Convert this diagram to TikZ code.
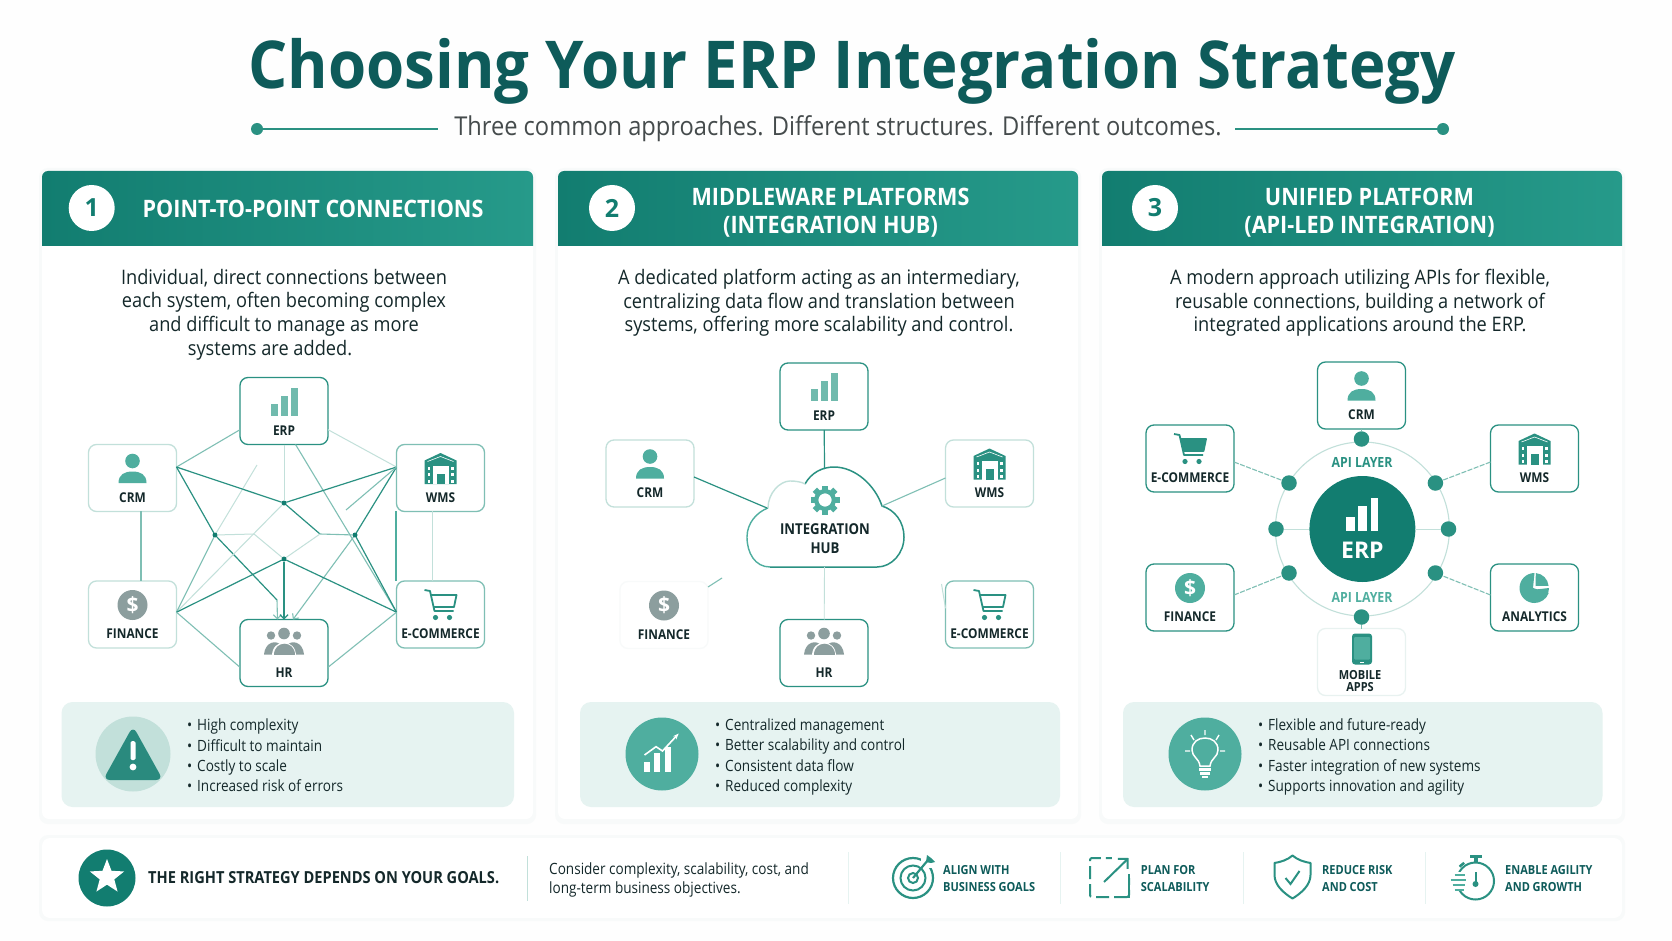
\documentclass[tikz,border=0pt]{standalone}
\usepackage{fontspec}
\setmainfont{Open Sans}
\newfontfamily\bodyf[FakeStretch=0.91]{Open Sans}
\newfontfamily\smallf[FakeStretch=0.875]{Open Sans}
\newfontfamily\headf[FakeStretch=0.88]{Open Sans}
\newfontfamily\headg[FakeStretch=0.9]{Open Sans}
\newfontfamily\titlef[FakeStretch=0.935]{Open Sans}
\usetikzlibrary{calc,arrows.meta,shapes.geometric}
\definecolor{tealD}{HTML}{127D70}
\definecolor{tealR}{HTML}{269A8A}
\definecolor{tealM}{HTML}{2A9182}
\definecolor{tealS}{HTML}{4FAE9F}
\definecolor{tealL}{HTML}{7FBFB4}
\definecolor{tealB}{HTML}{70BAAD}
\definecolor{tealF}{HTML}{C2E0DA}
\definecolor{titleC}{HTML}{0E5B5A}
\definecolor{subC}{HTML}{454B4C}
\definecolor{inkC}{HTML}{14282A}
\definecolor{greyI}{HTML}{8C9E9E}
\definecolor{infoC}{HTML}{E6F3F1}
\definecolor{shadC}{HTML}{F8FAFA}
\definecolor{bgC}{HTML}{FEFEFE}
\newcommand{\fsz}[2]{\fontsize{#1}{#2}\selectfont}
\newcount\icn
\newcommand{\nextic}{\global\advance\icn by 1 }
\tikzset{
 sysbox/.style={rectangle,rounded corners=8pt,minimum width=88pt,minimum height=67pt,fill=white,outer sep=0pt,inner sep=0pt,line width=1.3pt},
 syslabel/.style={font=\headf\bfseries\fsz{13.5}{16},text=inkC,inner sep=0pt,align=center},
 lnS/.style={draw=tealM,line width=1.2pt},
 lnM/.style={draw=tealL,line width=1.1pt},
 lnL/.style={draw=tealF,line width=1pt},
 jdot/.style={circle,fill=tealD,minimum size=5pt,inner sep=0pt,outer sep=0pt},
 apidot/.style={circle,fill=tealM,minimum size=15.5pt,inner sep=0pt,outer sep=0pt},
 dashln/.style={draw=tealL,line width=1.1pt,dash pattern=on 5pt off 1.5pt},
 cardbody/.style={fill=white,rounded corners=7pt},
 infobox/.style={fill=infoC,rounded corners=11pt},
 desc/.style={font=\bodyf\fsz{20}{23.6},text=inkC,align=center,inner sep=0pt},
 bullets/.style={font=\smallf\fsz{15.5}{20.4},text=inkC,align=left,inner sep=0pt,anchor=west},
 headT/.style={font=\headg\bfseries\fsz{24}{28},text=white,align=center,inner sep=0pt},
 numc/.style={circle,fill=white,minimum size=46pt,inner sep=0pt,font=\bfseries\fsz{25}{25},text=tealD},
 footT/.style={font=\headf\bfseries\fsz{12.5}{17},text=titleC,align=left,inner sep=0pt,anchor=west},
 divl/.style={draw=#1,line width=1pt},
}
% icons: origin at icon centre, y grows downward
\newcommand{\icBars}[1]{\fill[#1] (-13,14) rectangle (-6.5,2); \fill[#1] (-3,14) rectangle (3.5,-6); \fill[#1] (7,14) rectangle (13.5,-14);}
\newcommand{\icPerson}[1]{\fill[#1] (0,-7.5) circle (7.3pt); \fill[#1] (-14,14.5) .. controls (-14,6) and (-8,3) .. (0,3) .. controls (8,3) and (14,6) .. (14,14.5) -- cycle;}
\newcommand{\icHouse}[1]{\fill[#1] (-16,-8) -- (0,-15.5) -- (16,-8) -- (16,15.5) -- (-16,15.5) -- cycle;
 \fill[white] (-8,-3) -- (8,-3) -- (8,15.5) -- (-8,15.5) -- cycle;
 \fill[#1] (-4,5) rectangle (4,15.5);
 \foreach \yy in {-2,4.5,11}{\fill[white] (-13,\yy) rectangle (-10.5,\yy+3); \fill[white] (10.5,\yy) rectangle (13,\yy+3);}
 \draw[white,line width=.6pt] (-13,-7) -- (0,-12) -- (13,-7);}
\newcommand{\icDollar}[1]{\nextic\fill[#1] (0,0) circle (15pt); \node[font=\bfseries\fsz{21}{21},text=white,inner sep=0pt] (ic\the\icn) at (0,0) {\$};}
\newcommand{\icCart}[1]{\draw[#1,line width=1.8pt,line join=round] (-16,-15) -- (-10.5,-14) -- (-6,6) -- (13,6);
 \draw[#1,line width=1.8pt,line join=round] (-9.7,-10) -- (16,-10) -- (13.5,2) -- (-6.8,2);
 \fill[#1] (-5,12.5) circle (2.6pt); \fill[#1] (9,12.5) circle (2.6pt);}
\newcommand{\icCartF}[1]{\icCart{#1}\fill[#1] (-9.7,-10) -- (16,-10) -- (13.5,2) -- (-6.8,2) -- cycle;}
\newcommand{\icPeople}[1]{\fill[#1] (-13,-8) circle (4.2pt); \fill[#1] (13,-8) circle (4.2pt);
 \fill[#1] (-20,11) .. controls (-19,-2) and (-7,-4) .. (-3,2) -- (-5,11) -- cycle;
 \fill[#1] (20,11) .. controls (19,-2) and (7,-4) .. (3,2) -- (5,11) -- cycle;
 \fill[white] (0,-10) circle (7pt); \fill[#1] (0,-10) circle (5.8pt);
 \fill[white] (-12,12) .. controls (-12,-6) and (12,-6) .. (12,12) -- cycle;
 \fill[#1] (-10.5,11) .. controls (-10.5,-4) and (10.5,-4) .. (10.5,11) -- cycle;}
\newcommand{\icGear}[1]{\foreach \aa in {0,45,...,315}{\fill[#1,rotate=\aa] (-3,-14.5) rectangle (3,-8);} \draw[#1,line width=4.2pt] (0,0) circle (8.8pt);}
\newcommand{\icPhone}[1]{\fill[#1,rounded corners=3pt] (-10,-15.5) rectangle (10,15.5); \fill[tealS,rounded corners=1pt] (-8,-12) rectangle (8,10.5);\fill[white] (-2,13) rectangle (2,14);}
\newcommand{\icPie}[1]{\begin{scope}[y=1pt]\fill[#1] (-1.5,0) -- (90:15pt) arc (90:340:15pt) -- cycle; \fill[#1] (1,2) -- (85:15pt) arc (85:5:14pt) -- cycle; \fill[#1] (1.5,-1.5) -- (0:14.5pt) arc (0:-35:14.5pt) -- cycle;\end{scope}}
\newcommand{\sysnode}[6]{\node[sysbox,draw=#6] (#1) at (#2,#3) {};
 \node[syslabel] (#1l) at ($(#1)+(0,19.5)$) {#4};
 \begin{scope}[shift={($(#1)+(0,-9.5)$)}]#5\end{scope}}
\newcommand{\cardbox}[4]{%
 \fill[shadC,rounded corners=9pt] (#1-3,168) rectangle (#2+3,824);
 \fill[cardbody] (#1,171) rectangle (#2,819);
 \shade[left color=tealD,right color=tealR] (#1,246) {[rounded corners=6pt] -- (#1,171) -- (#2,171)} -- (#2,246) -- cycle;
 \fill[infobox] (#3,702) rectangle (#4,807);}
\begin{document}
\begin{tikzpicture}[x=1pt,y=-1pt]
\useasboundingbox (0,0) rectangle (1672,941);
\fill[bgC] (0,0) rectangle (1672,941);
% title
\node[font=\titlef\bfseries\fsz{66}{70},text=titleC,inner sep=0pt] (title) at (852,71) {Choosing Your ERP Integration Strategy};
\node[font=\bodyf\fsz{26}{30},text=subC,inner sep=0pt] (sub) at (838,129) {Three common approaches. Different structures. Different outcomes.};
\node[circle,fill=tealM,minimum size=12pt,inner sep=0pt] (dl) at (257,129) {};
\coordinate (dle) at (438,129);
\node[circle,fill=tealM,minimum size=12pt,inner sep=0pt] (dr) at (1443,129) {};
\coordinate (dre) at (1235,129);
\draw[tealM,line width=1.5pt] (dl) -- (dle);
\draw[tealM,line width=1.5pt] (dr) -- (dre);
% cards
\cardbox{42}{533}{61.5}{514}
\cardbox{558}{1078}{580}{1060}
\cardbox{1102}{1622}{1123}{1602.5}
% headers
\node[numc] (n1) at (91.7,208) {1};
\node[headT] (h1) at (313,209) {POINT-TO-POINT CONNECTIONS};
\node[numc] (n2) at (612,208) {2};
\node[headT] (h2) at (830.5,213) {MIDDLEWARE PLATFORMS\\(INTEGRATION HUB)};
\node[numc] (n3) at (1155,208) {3};
\node[headT] (h3) at (1369.5,213) {UNIFIED PLATFORM\\(API-LED INTEGRATION)};
% descriptions
\node[desc] (d1) at (284,314.5) {Individual, direct connections between\\each system, often becoming complex\\and difficult to manage as more\\systems are added.\hspace*{28pt}};
\node[desc] (d2) at (819,303) {A dedicated platform acting as an intermediary,\\centralizing data flow and translation between\\systems, offering more scalability and control.};
\node[desc] (d3) at (1360,303) {A modern approach utilizing APIs for flexible,\\reusable connections, building a network of\\integrated applications around the ERP.};
% PANEL 1
\sysnode{aerp}{284}{411}{ERP}{\icBars{tealB}}{tealM}
\sysnode{acrm}{132.5}{478}{CRM}{\icPerson{tealS}}{tealF}
\sysnode{awms}{440.5}{478}{WMS}{\icHouse{tealM}}{tealL}
\sysnode{afin}{132.5}{614.5}{FINANCE}{\icDollar{greyI}}{tealF}
\sysnode{aeco}{440.5}{614.5}{E-COMMERCE}{\icCart{tealM}}{tealL}
\sysnode{ahr}{284}{653}{HR}{\icPeople{greyI}}{tealM}
\node[jdot] (j1) at (284,503) {};
\node[jdot] (j2) at (215,535) {};
\node[jdot] (j3) at (355,535) {};
\node[jdot] (j4) at (284,559) {};
\coordinate (c1) at (254,534);
\coordinate (c2) at (320,534);
\coordinate (c3) at (346,510);
\coordinate (c4) at (257,465);
\coordinate (c5) at (277,600);
\coordinate (c6) at (141,511);
\coordinate (c7) at (141,581);
\coordinate (c8) at (432,511);
\coordinate (c9) at (432,581);
\coordinate (c10) at (396,511);
\coordinate (c11) at (396,581);
% lines
\draw[lnM] (aerp.203) -- (acrm.14);
\draw[lnL] (aerp.337) -- (awms.166);
\draw[lnL] (aerp.south) -- (j1);
\draw[lnM] (aerp.289) -- (aeco.177);
\draw[lnL] (c4) -- (j2);
\draw[lnS] (acrm.14) -- (j1);
\draw[lnS] (j1) -- (c2);
\draw[lnM] (c2) -- (j3);
\draw[lnS] (acrm.14) -- (j2);
\draw[lnS] (j2) -- (c5);
\draw[lnM,-{Straight Barb[length=4pt]}] (c5) -- (ahr.101);
\draw[lnS] (awms.166) -- (j1);
\draw[lnL] (j1) -- (afin.3);
\draw[lnS] (awms.166) -- (j3);
\draw[lnS] (j3) -- (aeco.177);
\draw[lnM,-{Straight Barb[length=4pt]}] (j3) -- (ahr.75);
\draw[lnM] (awms.166) -- (c3);
\draw[lnM] (j2) -- (afin.3);
\draw[lnL] (j2) -- (c1);
\draw[lnL] (c1) -- (j4);
\draw[lnL] (c2) -- (j4);
\draw[lnS] (j4) -- (afin.3);
\draw[lnS] (j4) -- (aeco.177);
\draw[lnS,-{Straight Barb[length=4pt]}] (j4) -- (ahr.north);
\draw[lnM] (afin.3) -- (ahr.198);
\draw[lnM] (aeco.177) -- (ahr.342);
\draw[lnM] (c6) -- (c7);
\draw[lnL] (c8) -- (c9);
\draw[tealS,line width=1.2pt] (c10) -- (c11);
% PANEL 2
\sysnode{berp}{824}{396.5}{ERP}{\icBars{tealB}}{tealM}
\sysnode{bcrm}{650}{473.5}{CRM}{\icPerson{tealS}}{tealF}
\sysnode{bwms}{989.5}{473.5}{WMS}{\icHouse{tealM}}{tealF}
\sysnode{bfin}{664}{615}{FINANCE}{\icDollar{greyI}}{shadC}
\sysnode{beco}{989.5}{614.5}{E-COMMERCE}{\icCart{tealM}}{tealL}
\sysnode{bhr}{824}{653}{HR}{\icPeople{greyI}}{tealM}
\fill[white] (770,567) .. controls (755,567) and (747,553) .. (747,537) .. controls (747,523) and (757,512) .. (768,508) .. controls (768,493) and (780,481) .. (790,481) .. controls (796,481) and (802,482) .. (805,484) .. controls (811,473) and (822,467) .. (834,467) .. controls (855,467) and (875,485) .. (882,506) .. controls (895,510) and (904,522) .. (904,537) .. controls (904,553) and (892,567) .. (877,567) -- cycle;
\draw[tealM,line width=1.5pt] (805,484) .. controls (811,473) and (822,467) .. (834,467) .. controls (855,467) and (875,485) .. (882,506) .. controls (895,510) and (904,522) .. (904,537) .. controls (904,553) and (892,567) .. (877,567) -- (770,567);
\draw[tealS,line width=1.4pt] (770,567) .. controls (755,567) and (747,553) .. (747,537) .. controls (747,523) and (757,512) .. (768,508);
\draw[tealF,line width=1.4pt] (768,508) .. controls (768,493) and (780,481) .. (790,481) .. controls (796,481) and (802,482) .. (805,484);
\coordinate (cT) at (824.5,469);
\coordinate (cL) at (767,508);
\coordinate (cR) at (882,506);
\coordinate (cB) at (824.5,567);
\coordinate (fA) at (722,578);
\coordinate (fB) at (708,587);
\coordinate (eA) at (941.5,584);
\draw[lnS] (berp) -- (cT);
\draw[lnS] (bcrm.east) ++(0,3.5) -- (cL);
\draw[lnM] (bwms.west) ++(0,4.5) -- (cR);
\draw[tealF,line width=.9pt] (cB) -- (bhr);
\draw[lnM] (fA) -- (fB);
\draw[lnL] (eA) -- (beco.172);
\begin{scope}[shift={(825,500)}]\icGear{tealS}\end{scope}
\node[syslabel,font=\headf\bfseries\fsz{15}{19.3}] (hub) at (825,538.5) {INTEGRATION\\HUB};
% PANEL 3
\sysnode{ccrm}{1361.5}{395.5}{CRM}{\icPerson{tealS}}{tealM}
\sysnode{ceco}{1190}{458.5}{E-COMMERCE}{\icCartF{tealM}}{tealM}
\sysnode{cwms}{1534.5}{458.5}{WMS}{\icHouse{tealM}}{tealM}
\sysnode{cfin}{1190}{597.5}{FINANCE}{\icDollar{tealS}}{tealM}
\sysnode{cana}{1534.5}{597.5}{ANALYTICS}{\icPie{tealS}}{tealM}
\node[sysbox,draw=shadC!70!tealF] (cmob) at (1361.5,662) {};
\begin{scope}[shift={(1362,649)}]\icPhone{tealM}\end{scope}
\node[syslabel,font=\headf\bfseries\fsz{12.5}{12}] (cmobl) at (1360,681) {MOBILE\\APPS};
\draw[tealF,line width=1.1pt] (1362.4,529) circle (87pt);
\node[circle,fill=tealD,minimum size=106pt,inner sep=0pt,outer sep=0pt] (cerp) at (1362.4,529) {};
\fill[white] (1346,530.7) rectangle (1354.5,516.7);
\fill[white] (1358,530.7) rectangle (1367,505.7);
\fill[white] (1371,530.7) rectangle (1378,498);
\node[font=\bfseries\fsz{23}{23},text=white,inner sep=0pt] (cerpl) at (1362.4,550) {ERP};
\node[font=\headf\bfseries\fsz{14}{14},text=tealM,inner sep=0pt] (api1) at (1362,462) {API LAYER};
\node[font=\headf\bfseries\fsz{14}{14},text=tealS,inner sep=0pt] (api2) at (1362,597) {API LAYER};
\node[apidot] (dT) at (1361.5,439) {};
\node[apidot] (dB) at (1361.5,617) {};
\node[apidot] (dL) at (1276,529) {};
\node[apidot] (dR) at (1448.5,529) {};
\node[apidot] (dUL) at (1289,483) {};
\node[apidot] (dUR) at (1435.4,483) {};
\node[apidot] (dLL) at (1289,573) {};
\node[apidot] (dLR) at (1435.4,573) {};
\draw[lnM] (ccrm) -- (dT);
\draw[lnM] (cmob) -- (dB);
\draw[lnL] (dL) -- (cerp);
\draw[lnL] (dR) -- (cerp);
\draw[dashln] (ceco.east) ++(0,3.5) -- (dUL);
\draw[dashln] (cwms.west) ++(0,3.5) -- (dUR);
\draw[dashln] (cfin.east) ++(0,-2.5) -- (dLL);
\draw[dashln] (cana.west) ++(0,-2.5) -- (dLR);
% info boxes
\fill[tealF] (133,754) circle (37.5pt);
\fill[tealD!90!white,rounded corners=7pt] (133,726) -- (163,780) -- (103,780) -- cycle;
\fill[white,rounded corners=1.5pt] (130.5,741) rectangle (135.5,760);
\fill[white] (133,767) circle (3.4pt);
\node[bullets] (b1) at (187,755.5) {\makebox[10pt][l]{•}High complexity\\\makebox[10pt][l]{•}Difficult to maintain\\\makebox[10pt][l]{•}Costly to scale\\\makebox[10pt][l]{•}Increased risk of errors};
\fill[tealS] (662,754) circle (36.5pt);
\fill[white] (643.5,772.3) rectangle (649.5,761.7);
\fill[white] (654,772.3) rectangle (660,753);
\fill[white] (665,772.3) rectangle (671,747);
\draw[white,line width=1.6pt,-{Stealth[length=6pt]}] (644.5,755) -- (656,746.7) -- (662.5,751) -- (678.7,733.5);
\node[bullets] (b2) at (715,757) {\makebox[10pt][l]{•}Centralized management\\\makebox[10pt][l]{•}Better scalability and control\\\makebox[10pt][l]{•}Consistent data flow\\\makebox[10pt][l]{•}Reduced complexity};
\fill[tealS] (1205,754) circle (36.5pt);
\draw[white,line width=1.5pt] (1200,766) .. controls (1199,758) and (1192,757) .. (1192,750) .. controls (1192,742) and (1198,738) .. (1205,738) .. controls (1212,738) and (1218,742) .. (1218,750) .. controls (1218,757) and (1211,758) .. (1210,766) -- cycle;
\fill[white] (1199,768) rectangle (1211,770.5);
\fill[white] (1200,772) rectangle (1210,774.5);
\fill[white] (1202,775.5) rectangle (1208,777.5);
\draw[white,line width=1.4pt] (1205,730) -- (1205,735) (1191,735) -- (1194,740) (1219,735) -- (1216,740) (1185,751) -- (1190,751) (1220,751) -- (1225,751);
\node[bullets] (b3) at (1258,757) {\makebox[10pt][l]{•}Flexible and future-ready\\\makebox[10pt][l]{•}Reusable API connections\\\makebox[10pt][l]{•}Faster integration of new systems\\\makebox[10pt][l]{•}Supports innovation and agility};
% footer
\fill[shadC,rounded corners=9pt] (39,835) rectangle (1625,921);
\fill[white,rounded corners=8pt] (42,838) rectangle (1622,918);
\node[circle,fill=tealD,minimum size=57pt,inner sep=0pt] (fstar) at (107,878) {};
\node[star,star points=5,star point ratio=2.35,fill=white,minimum size=36pt,inner sep=0pt] (fstari) at (107,877) {};
\node[font=\headf\bfseries\fsz{16.6}{18},text=inkC,inner sep=0pt,anchor=west] (f1) at (148,878) {THE RIGHT STRATEGY DEPENDS ON YOUR GOALS.};
\draw[divl=tealF] (527,856) -- (527,901);
\node[font=\smallf\fsz{15.5}{19.6},text=inkC,align=left,inner sep=0pt,anchor=west] (f2) at (549,880) {Consider complexity, scalability, cost, and\\long-term business objectives.};
\draw[divl=infoC] (848,852) -- (848,904);
\draw[divl=infoC] (1060,852) -- (1060,904);
\draw[divl=infoC] (1243,852) -- (1243,904);
\draw[divl=infoC] (1425,852) -- (1425,904);
% target
\begin{scope}[shift={(913,878)}]
\draw[tealM,line width=2.2pt] (0,0) circle (20pt);
\draw[tealM,line width=2pt] (0,0) circle (12.5pt);
\draw[tealM,line width=2pt] (0,0) circle (5pt);
\fill[white] (8,-24) rectangle (24,-10);
\draw[tealM,line width=2.2pt] (0,0) -- (15,-18);
\fill[tealM] (13,-16) -- (14,-23) -- (18,-20) -- (22,-16) -- (18,-15) -- cycle;
\end{scope}
\node[footT] (g1) at (943,878.5) {ALIGN WITH\\BUSINESS GOALS};
% scalability
\draw[tealM,line width=2pt,dash pattern=on 13pt off 5pt,rounded corners=2pt] (1129,897) -- (1090,897) -- (1090,858) -- (1129,858) -- cycle;
\fill[white] (1112,854) rectangle (1132,878);
\draw[tealM,line width=2pt,-{Straight Barb[length=7pt]}] (1104,882) -- (1128.7,858);
\draw[tealM,line width=2pt] (1129,874) -- (1129,897) -- (1120,897);
\node[footT] (g2) at (1140.7,878.5) {PLAN FOR\\SCALABILITY};
% shield
\begin{scope}[shift={(1292.5,877)}]
\draw[tealM,line width=2pt,line join=round] (0,-21.5) .. controls (5,-17) and (12,-15) .. (18,-14) -- (18,-2) .. controls (18,8) and (9,16) .. (0,21.5) .. controls (-9,16) and (-18,8) .. (-18,-2) -- (-18,-14) .. controls (-12,-15) and (-5,-17) .. (0,-21.5) -- cycle;
\draw[tealM,line width=2pt] (-7,1) -- (-2,7) -- (7,-6);
\end{scope}
\node[footT] (g3) at (1322,878.5) {REDUCE RISK\\AND COST};
% stopwatch
\begin{scope}[shift={(1475.5,881)}]
\draw[tealM,line width=2pt] (0,0) circle (18.5pt);
\fill[white] (-22,-9) rectangle (-9,10);
\fill[tealM] (-6,-26) rectangle (6,-23.5);
\fill[tealM] (-2,-24) rectangle (2,-18);
\fill[tealM,rotate=40] (-3,-22.5) rectangle (3,-20);
\draw[tealM,line width=2pt] (0,4) -- (0,-9);
\fill[tealM] (0,3) circle (3pt);
\draw[tealS,line width=2.2pt] (-21,-6) -- (-11,-6) (-25,-1) -- (-10,-1) (-23,4) -- (-11,4) (-21,9) -- (-12,9);
\end{scope}
\node[footT] (g4) at (1505,878.5) {ENABLE AGILITY\\AND GROWTH};
\end{tikzpicture}
\end{document}
